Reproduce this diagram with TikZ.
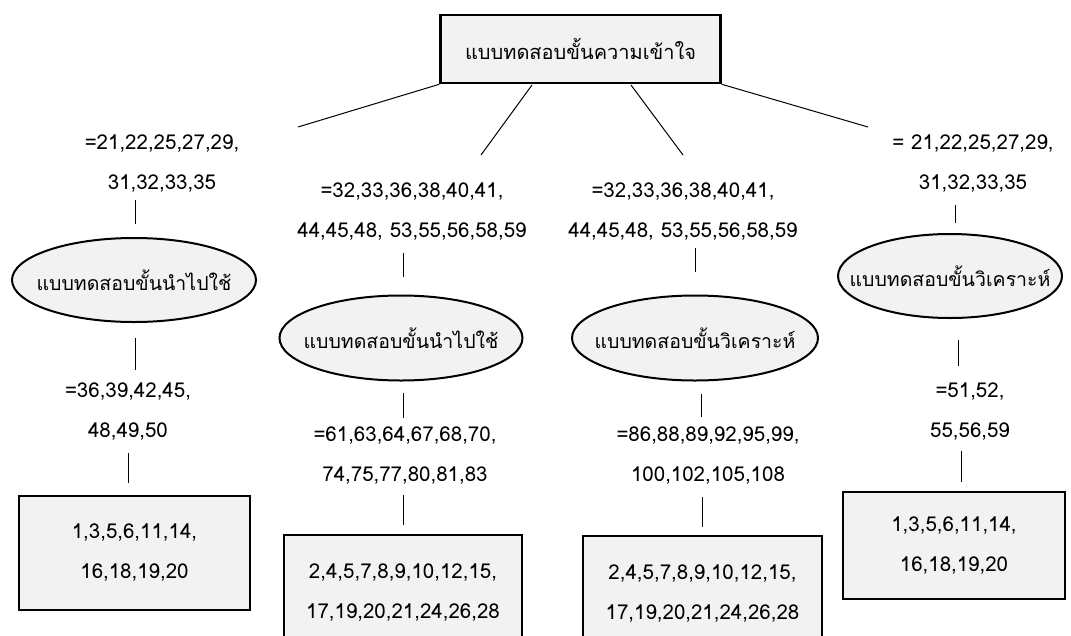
\documentclass[tikz,border=0pt]{standalone}
\usepackage{fontspec}
\setmainfont[Script=Thai]{Loma}
\usetikzlibrary{shapes.geometric}
\definecolor{boxfill}{HTML}{F2F2F2}
\tikzset{
  conn/.style={draw=black, line width=1pt},
  topbox/.style={draw=black, line width=2.6pt, fill=boxfill, minimum width=280pt, minimum height=68pt, inner sep=0pt},
  numbox/.style={draw=black, line width=2.4pt, fill=boxfill, inner sep=0pt, align=center, font=\fontsize{20.5}{40}\selectfont},
  oval/.style={ellipse, draw=black, line width=2pt, fill=boxfill, inner sep=0pt, font=\fontsize{19.5}{24}\selectfont},
  lab/.style={align=center, inner sep=0pt, font=\fontsize{20.5}{40}\selectfont},
}
\begin{document}
\begin{tikzpicture}[x=1pt,y=-1pt]
\useasboundingbox (0,0) rectangle (1071,635);
\clip (0,0) rectangle (1071,635);
\fill[white] (0,0) rectangle (1071,635);
% top
\node[topbox, font=\fontsize{20}{24}\selectfont] (top) at (580.5,49) {แบบทดสอบขั้นความเข้าใจ};
% ellipses
\node[oval, minimum width=244pt, minimum height=84pt] (ellA) at (134,280) {\makebox[0pt]{แบบทดสอบขั้นนำไปใช้}};
\node[oval, minimum width=243pt, minimum height=85pt] (ellB) at (401,338) {\makebox[0pt]{แบบทดสอบขั้นนำไปใช้}};
\node[oval, minimum width=246pt, minimum height=85pt] (ellC) at (695,338) {\makebox[0pt]{แบบทดสอบขั้นวิเคราะห์}};
\node[oval, minimum width=224pt, minimum height=84pt] (ellD) at (950,276) {\makebox[0pt]{แบบทดสอบขั้นวิเคราะห์}};
% labels
\node[lab] (labA1) at (162,164) {=21,22,25,27,29,\\31,32,33,35};
\node[lab] (labA2) at (128,412) {=36,39,42,45,\\48,49,50};
\node[lab] (labB1) at (412,212) {=32,33,36,38,40,41,\\44,45,48, 53,55,56,58,59};
\node[lab] (labB2) at (405,456) {=61,63,64,67,68,70,\\74,75,77,80,81,83};
\node[lab] (labC1) at (683,212) {=32,33,36,38,40,41,\\44,45,48, 53,55,56,58,59};
\node[lab] (labC2) at (708,456) {=86,88,89,92,95,99,\\100,102,105,108};
\node[lab] (labD1) at (973,164) {= 21,22,25,27,29,\\31,32,33,35};
\node[lab] (labD2) at (970,412) {=51,52,\\55,56,59};
% boxes
\node[numbox, minimum width=231pt, minimum height=114pt] (boxA) at (134.5,553) {1,3,5,6,11,14,\\16,18,19,20};
\node[numbox, minimum width=238pt, minimum height=116pt] (boxB) at (403,593) {2,4,5,7,8,9,10,12,15,\\17,19,20,21,24,26,28};
\node[numbox, minimum width=239pt, minimum height=116pt] (boxC) at (702.5,594) {2,4,5,7,8,9,10,12,15,\\17,19,20,21,24,26,28};
\node[numbox, minimum width=222pt, minimum height=107pt] (boxD) at (954,545.5) {1,3,5,6,11,14,\\16,18,19,20};
% free ends
\coordinate (dA) at (298,127);
\coordinate (dB0) at (532,85);
\coordinate (dB) at (481,155);
\coordinate (dC0) at (631,85);
\coordinate (dC) at (683,155);
\coordinate (dD) at (868,127);
\draw[conn] (top.south west) -- (dA);
\draw[conn] (dB0) -- (dB);
\draw[conn] (dC0) -- (dC);
\draw[conn] (top.south east) -- (dD);
% vertical connectors
\coordinate (a1) at (135,200); \coordinate (a2) at (135,224);
\coordinate (a3) at (135,338); \coordinate (a4) at (135,370);
\coordinate (a5) at (128,453); \coordinate (a6) at (128,483);
\coordinate (b1) at (403,253); \coordinate (b2) at (403,277);
\coordinate (b3) at (403,393); \coordinate (b4) at (403,418);
\coordinate (b5) at (403,495); \coordinate (b6) at (403,525);
\coordinate (c1) at (695,248); \coordinate (c2) at (695,272);
\coordinate (c3) at (701,394); \coordinate (c4) at (701,417);
\coordinate (c5) at (702,497); \coordinate (c6) at (702,527);
\coordinate (d1) at (955,205); \coordinate (d2) at (955,223);
\coordinate (d3) at (958,340); \coordinate (d4) at (958,366);
\coordinate (d5) at (961,451); \coordinate (d6) at (961,482);
\foreach \p in {a,b,c,d}{
  \draw[conn] (\p1) -- (\p2);
  \draw[conn] (\p3) -- (\p4);
  \draw[conn] (\p5) -- (\p6);
}
\end{tikzpicture}
\end{document}
